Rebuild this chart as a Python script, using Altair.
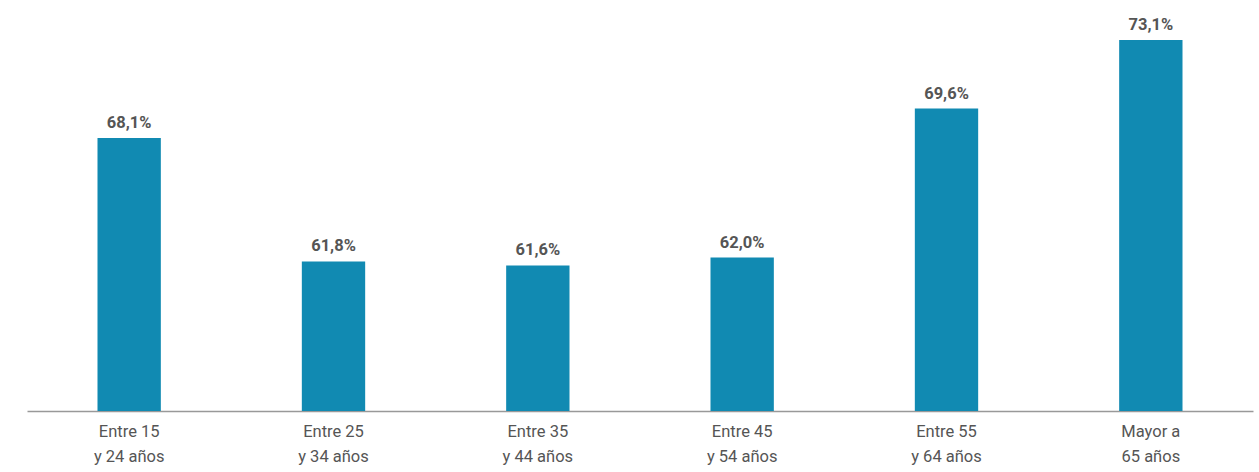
import altair as alt
import pandas as pd

categories = ["Entre 15|y 24 años", "Entre 25|y 34 años", "Entre 35|y 44 años",
              "Entre 45|y 54 años", "Entre 55|y 64 años", "Mayor a|65 años"]
values = [68.1, 61.8, 61.6, 62.0, 69.6, 73.1]
labels = ["68,1%", "61,8%", "61,6%", "62,0%", "69,6%", "73,1%"]

df = pd.DataFrame({"cat": categories, "val": values, "lab": labels})

x = alt.X("cat:N", sort=categories, title=None,
          scale=alt.Scale(paddingInner=0.69, paddingOuter=0.345),
          axis=alt.Axis(labelExpr="split(datum.label, '|')", labelAngle=0,
                        labelFont="Roboto", labelFontSize=16.5, labelColor="#555555",
                        labelLineHeight=25, labelPadding=12, ticks=False,
                        domainColor="#999999", domainWidth=1.5, grid=False))
y = alt.Y("val:Q", title=None,
          scale=alt.Scale(domain=[54.17, 75.14], zero=False, nice=False, clamp=False),
          axis=None)

bars = alt.Chart(df).mark_bar(color="#118AB2", clip=True).encode(x=x, y=y, y2=alt.datum(54.17))
text = alt.Chart(df).mark_text(baseline="bottom", dy=-7, font="Roboto", fontWeight="bold",
                               fontSize=16.5, color="#555555").encode(x=x, y=y, text="lab:N")

chart = (bars + text).properties(
    width=1226, height=411,
    padding={"left": 27, "top": 0, "right": 6, "bottom": 61},
    autosize=alt.AutoSizeParams(type="none"),
).configure_view(stroke=None)

chart.save("out.html", embed_options={"renderer": "svg", "actions": False})
